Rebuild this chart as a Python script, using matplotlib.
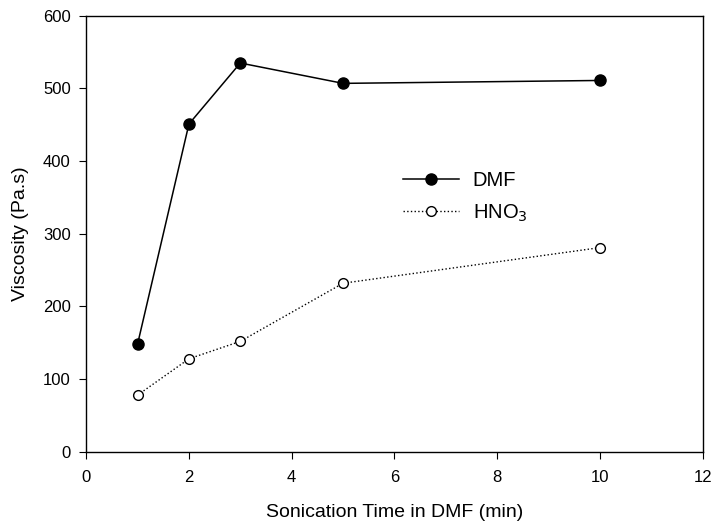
import matplotlib
matplotlib.use('Agg')
import matplotlib.pyplot as plt

plt.rcParams['font.family'] = ['Liberation Sans', 'DejaVu Sans']

time_min = [1, 2, 3, 5, 10]
dmf_visc = [148, 451, 535, 507, 511]
hno3_visc = [78, 128, 152, 232, 281]

fig = plt.figure(figsize=(7.12, 5.26), dpi=100)
ax = fig.add_axes([0.121, 0.141, 0.866, 0.829])

ax.plot(time_min, dmf_visc, color='black', linestyle='-', linewidth=1.1,
        marker='o', markersize=8, markerfacecolor='black',
        markeredgecolor='black', label='DMF')
ax.plot(time_min, hno3_visc, color='black', linestyle=':', linewidth=1.0,
        marker='o', markersize=7, markerfacecolor='white',
        markeredgecolor='black', markeredgewidth=1.0, label='HNO$_3$')

ax.set_xlim(0, 12)
ax.set_ylim(0, 600)
ax.set_xticks(range(0, 13, 2))
ax.set_yticks(range(0, 601, 100))
ax.tick_params(direction='out', length=5, labelsize=12, top=False, right=False)
ax.tick_params(axis='x', pad=8)
ax.tick_params(axis='y', pad=6)
for s in ax.spines.values():
    s.set_linewidth(1.0)

ax.set_xlabel('Sonication Time in DMF (min)', fontsize=14, labelpad=14)
ax.set_ylabel('Viscosity (Pa.s)', fontsize=14, labelpad=10)

ax.legend(loc='upper left', bbox_to_anchor=(0.485, 0.685), frameon=False,
          fontsize=14.5, handlelength=2.75, handletextpad=0.7, labelspacing=0.6)

fig.savefig('out.png', dpi=100, facecolor='white')
